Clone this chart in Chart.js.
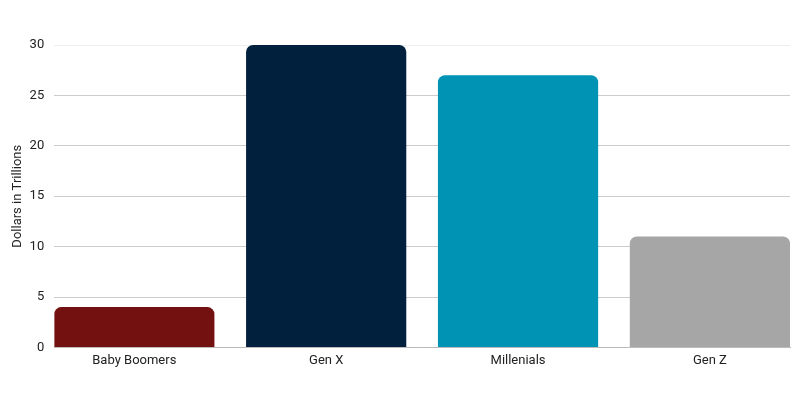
<!DOCTYPE html>
<html>
<head>
<meta charset="utf-8">
<script src="https://cdn.jsdelivr.net/npm/chart.js@4"></script>
<style>
    html, body { margin: 0; padding: 0; background: #fff; }
    #wrap { width: 800px; height: 400px; }
</style>
</head>
<body>
<div id="wrap"><canvas id="chart"></canvas></div>
<script>
const categories = ['Baby Boomers', 'Gen X', 'Millenials', 'Gen Z'];
const values = [4, 30, 27, 11];
const barColors = ['#731010', '#00203d', '#0093b3', '#a6a6a6'];
const yTicks = [0, 5, 10, 15, 20, 25, 30];

// bars sit flush with the plot edges, so the x axis is a linear one around the indexes
const barShare = 0.835;
const xMin = -barShare / 2;
const xMax = categories.length - 1 + barShare / 2;

Chart.defaults.font.family = 'Roboto';
Chart.defaults.font.size = 13;
Chart.defaults.color = '#222';

const ctx = document.getElementById('chart').getContext('2d');
new Chart(ctx, {
    type: 'bar',
    data: {
        datasets: [{
            data: values.map((v, i) => ({x: i, y: v})),
            backgroundColor: barColors,
            borderRadius: {topLeft: 7, topRight: 7},
            borderSkipped: 'bottom',
            barPercentage: barShare,
            categoryPercentage: 1
        }]
    },
    options: {
        responsive: true,
        maintainAspectRatio: false,
        animation: false,
        layout: {padding: {top: 45, right: 10, bottom: 25, left: 4}},
        plugins: {legend: {display: false}, tooltip: {enabled: false}},
        scales: {
            x: {
                type: 'linear',
                offset: false,
                min: xMin,
                max: xMax,
                afterBuildTicks: axis => { axis.ticks = categories.map((c, i) => ({value: i})); },
                grid: {display: false, drawTicks: false, offset: false},
                border: {color: '#bbb'},
                ticks: {padding: 6, callback: v => categories[v]}
            },
            y: {
                min: 0,
                max: 30,
                afterBuildTicks: axis => { axis.ticks = yTicks.map(v => ({value: v})); },
                grid: {
                    color: c => c.tick && c.tick.value === 30 ? '#eee' : '#ccc',
                    drawTicks: false
                },
                border: {display: false},
                ticks: {padding: 10},
                title: {display: true, text: 'Dollars in Trillions', padding: {top: 6, bottom: -6}}
            }
        }
    }
});
</script>
</body>
</html>
